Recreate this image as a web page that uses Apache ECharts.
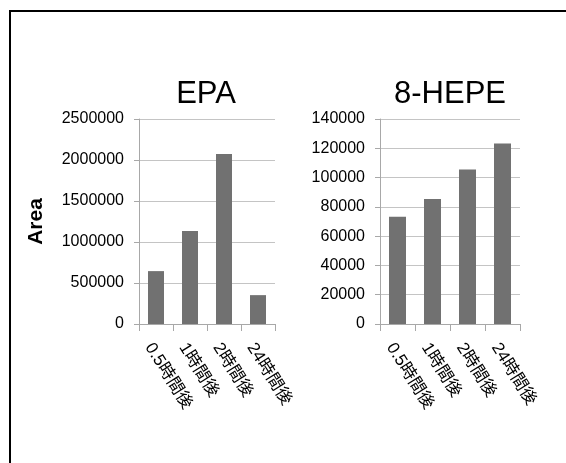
<!DOCTYPE html>
<html>
<head>
<meta charset="utf-8">
<script src="https://cdn.jsdelivr.net/npm/echarts@6/dist/echarts.min.js"></script>
<style>html,body{margin:0;padding:0;background:#fff;}#c{width:566px;height:463px;}</style>
</head>
<body>
<div id="c"></div>
<script>
const categories = ['0.5時間後', '1時間後', '2時間後', '24時間後'];
const epaValues = [645000, 1135000, 2072000, 352000];
const hepeValues = [73200, 85300, 105500, 123300];
const epaTicks = {min: 0, max: 2500000, interval: 500000};
const hepeTicks = {min: 0, max: 140000, interval: 20000};

const FONT = "'Liberation Sans', 'Noto Sans CJK JP', sans-serif";
const gridColor = '#c4c4c4';
const axisColor = '#a8a8a8';
const barColor = '#717171';

function xAxis(gridIndex) {
  return {
    type: 'category', gridIndex, data: categories,
    axisLine: {show: true, lineStyle: {color: axisColor, width: 1}},
    axisTick: {show: true, length: 7, lineStyle: {color: axisColor}},
    axisLabel: {rotate: -58, fontSize: 17, color: '#000', fontFamily: FONT, margin: 16, interval: 0,
                verticalAlign: 'top'}
  };
}
function yAxis(gridIndex, t, name) {
  return Object.assign({
    type: 'value', gridIndex,
    axisLine: {show: true, lineStyle: {color: axisColor, width: 1}},
    axisTick: {show: true, length: 5, inside: false, lineStyle: {color: axisColor}},
    splitLine: {show: true, lineStyle: {color: gridColor, width: 1}},
    axisLabel: {fontSize: 16, color: '#000', fontFamily: FONT, margin: 15, formatter: v => String(v)},
    name: name || '', nameLocation: 'middle', nameRotate: 90, nameGap: 92,
    nameTextStyle: {fontSize: 21, fontWeight: 'bold', color: '#000', fontFamily: FONT}
  }, t);
}

const chart = echarts.init(document.getElementById('c'), null, {renderer: 'canvas'});
chart.setOption({
  animation: false,
  backgroundColor: '#fff',
  title: [
    {text: 'EPA', left: 206, top: 79, textAlign: 'center', padding: 0,
     textStyle: {fontSize: 31, fontWeight: 'normal', color: '#000', fontFamily: FONT}},
    {text: '8-HEPE', left: 450, top: 79, textAlign: 'center', padding: 0,
     textStyle: {fontSize: 31, fontWeight: 'normal', color: '#000', fontFamily: FONT}}
  ],
  graphic: [{
    type: 'polyline', silent: true,
    shape: {points: [[10, 470], [10, 11], [570, 11]]},
    style: {stroke: '#000', lineWidth: 2, fill: null}
  }],
  grid: [
    {left: 139, right: 291, top: 119, bottom: 139, containLabel: false},
    {left: 380, right: 46, top: 119, bottom: 139, containLabel: false}
  ],
  xAxis: [xAxis(0), xAxis(1)],
  yAxis: [yAxis(0, epaTicks, 'Area'), yAxis(1, hepeTicks)],
  series: [
    {type: 'bar', xAxisIndex: 0, yAxisIndex: 0, data: epaValues, barWidth: 16, itemStyle: {color: barColor}},
    {type: 'bar', xAxisIndex: 1, yAxisIndex: 1, data: hepeValues, barWidth: 17, itemStyle: {color: barColor}}
  ]
});
</script>
</body>
</html>
